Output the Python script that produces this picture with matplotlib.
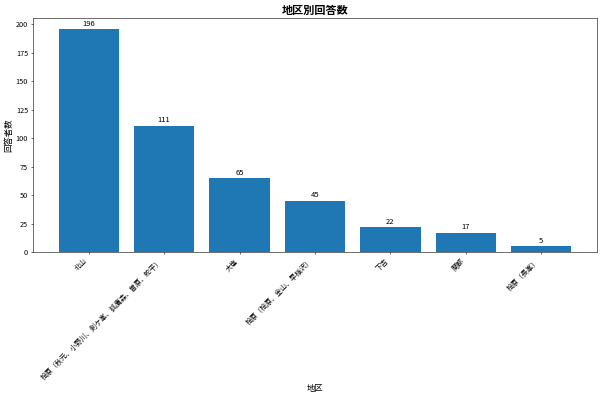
import matplotlib
matplotlib.use("Agg")
import matplotlib.pyplot as plt

plt.rcParams['font.family'] = ['Noto Sans CJK JP', 'DejaVu Sans']

# 地区ごとの回答数
districts = [
    "北山",
    "桧原（秋元、小野川、剣ケ峯、狐鷹森、曽原、蛇平）",
    "大塩",
    "桧原（桧原、金山、早稲沢）",
    "下吉",
    "関都",
    "桧原（長峯）",
]
counts = [196, 111, 65, 45, 22, 17, 5]

fig, ax = plt.subplots(figsize=(12, 7.94), dpi=50)
bars = ax.bar(districts, counts, color="#1f77b4")
ax.bar_label(bars, labels=[str(c) for c in counts], padding=2, fontsize=11)

ax.set_title("地区別回答数", fontsize=16, fontweight="bold")
ax.set_xlabel("地区", fontsize=12)
ax.set_ylabel("回答者数", fontsize=12)
plt.xticks(rotation=45, ha="right", fontsize=10)
plt.yticks(fontsize=10.5)

fig.subplots_adjust(left=0.055, right=0.995, top=0.955, bottom=0.365)
fig.savefig("out.png", dpi=50)
